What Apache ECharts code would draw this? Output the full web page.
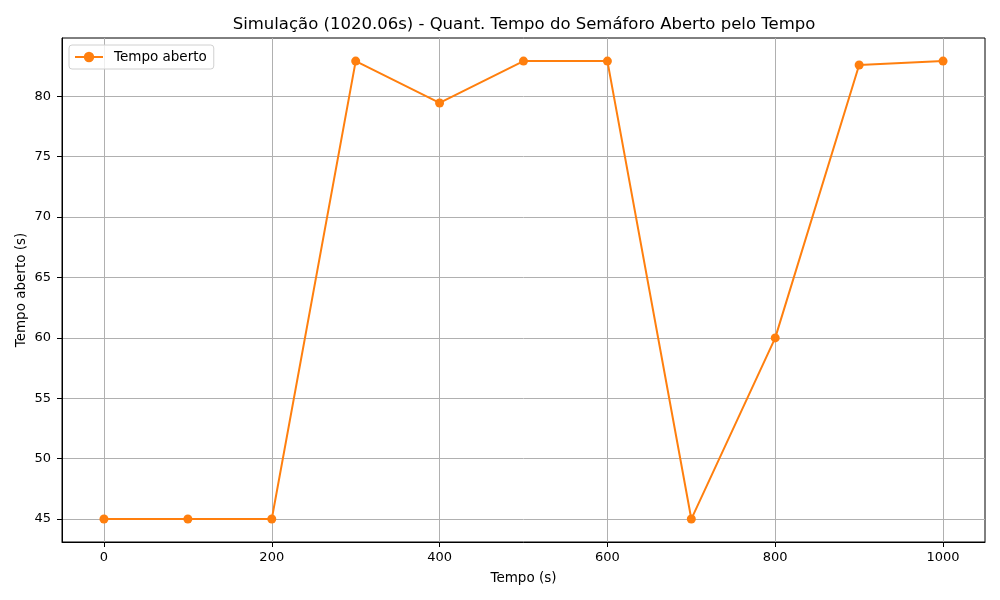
<!DOCTYPE html>
<html>
<head>
<meta charset="utf-8">
<script src="https://cdn.jsdelivr.net/npm/echarts@6/dist/echarts.min.js"></script>
<style>
  html, body { margin: 0; padding: 0; background: #fff; }
  #chart { width: 1000px; height: 600px; }
</style>
</head>
<body>
<div id="chart"></div>
<script>
// dados da simulação
const tempos = [0, 100, 200, 300, 400, 500, 600, 700, 800, 900, 1000];
const tempoAberto = [45, 45, 45, 82.92, 79.45, 82.92, 82.92, 45, 60, 82.59, 82.92];
const xTicks = [0, 200, 400, 600, 800, 1000];
const yTicks = [45, 50, 55, 60, 65, 70, 75, 80];

const font = 'DejaVu Sans';
let myChart = echarts.init(document.getElementById('chart'));

myChart.setOption({
    animation: false,
    textStyle: { fontFamily: font },
    title: {
        text: 'Simulação (1020.06s) - Quant. Tempo do Semáforo Aberto pelo Tempo',
        left: 519, top: 11,
        textAlign: 'center',
        textStyle: { fontFamily: font, fontSize: 16.5, fontWeight: 'normal', color: '#000' }
    },
    legend: {
        left: 69, top: 45,
        padding: [5, 7, 5, 5],
        itemWidth: 28, itemHeight: 13, itemGap: 8,
        borderColor: '#d0d0d0', borderWidth: 1, borderRadius: 3,
        backgroundColor: 'rgba(255,255,255,0.8)',
        textStyle: { fontFamily: font, fontSize: 13.5, color: '#000', padding: [0, 0, 0, 6] },
        data: ['Tempo aberto']
    },
    grid: {
        left: 62, right: 15, top: 38, bottom: 58,
        show: true, borderColor: '#000', borderWidth: 1
    },
    xAxis: {
        type: 'value',
        min: -50, max: 1050,
        name: 'Tempo (s)',
        nameLocation: 'middle', nameGap: 29,
        nameTextStyle: { fontFamily: font, fontSize: 13.5, color: '#000' },
        axisLine: { show: true, onZero: false, lineStyle: { color: '#000', width: 1 } },
        axisTick: { show: true, length: 5, customValues: xTicks, lineStyle: { color: '#000' } },
        axisLabel: {
            customValues: xTicks, fontFamily: font, fontSize: 13, color: '#000', margin: 9,
            formatter: v => String(v)
        },
        splitLine: { show: true, lineStyle: { color: '#b0b0b0', width: 1 } }
    },
    yAxis: {
        type: 'value',
        min: 43.1, max: 84.83,
        name: 'Tempo aberto (s)',
        nameLocation: 'middle', nameGap: 34,
        nameMoveOverlap: false,
        nameTextStyle: { fontFamily: font, fontSize: 13.5, color: '#000' },
        axisLine: { show: true, onZero: false, lineStyle: { color: '#000', width: 1 } },
        axisTick: { show: true, length: 5, customValues: yTicks, lineStyle: { color: '#000' } },
        axisLabel: { customValues: yTicks, fontFamily: font, fontSize: 13, color: '#000', margin: 11 },
        splitLine: { show: true, lineStyle: { color: '#b0b0b0', width: 1 } }
    },
    series: [{
        name: 'Tempo aberto',
        type: 'line',
        data: tempos.map((t, i) => [t, tempoAberto[i]]),
        color: '#ff7f0e',
        symbol: 'circle',
        symbolSize: 9,
        showAllSymbol: true,
        lineStyle: { width: 2, color: '#ff7f0e' },
        itemStyle: { color: '#ff7f0e' }
    }]
});
</script>
</body>
</html>
